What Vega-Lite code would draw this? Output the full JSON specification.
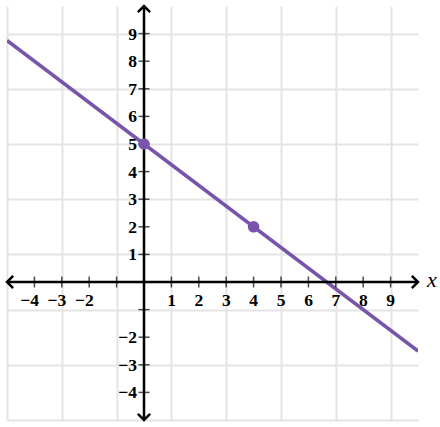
{
  "$schema": "https://vega.github.io/schema/vega-lite/v6.json",
  "description": "Line through (0,5) and (4,2) on a coordinate grid.",
  "width": 411,
  "height": 414,
  "autosize": "none",
  "padding": {"left": 7, "top": 6, "right": 22, "bottom": 7},
  "background": "white",
  "view": {"stroke": null},
  "config": {
    "text": {"font": "Liberation Serif", "fontWeight": "bold", "fontSize": 17.5, "color": "black"}
  },
  "data": {"values": [{}]},
  "datasets": {
    "line": [
      {"x": -5, "y": 8.75},
      {"x": 10, "y": -2.5}
    ],
    "points": [
      {"x": 0, "y": 5},
      {"x": 4, "y": 2}
    ],
    "ticks": [
      {"v": -4, "label": "−4"},
      {"v": -3, "label": "−3"},
      {"v": -2, "label": "−2"},
      {"v": -1, "label": ""},
      {"v": 1, "label": "1"},
      {"v": 2, "label": "2"},
      {"v": 3, "label": "3"},
      {"v": 4, "label": "4"},
      {"v": 5, "label": "5"},
      {"v": 6, "label": "6"},
      {"v": 7, "label": "7"},
      {"v": 8, "label": "8"},
      {"v": 9, "label": "9"}
    ]
  },
  "layer": [
    {
      "data": {"name": "line"},
      "mark": {"type": "line", "color": "#7854ab", "strokeWidth": 3.5, "clip": true},
      "encoding": {
        "x": {
          "field": "x", "type": "quantitative",
          "scale": {"domain": [-5, 10], "nice": false, "zero": false},
          "axis": {
            "values": [-5, -4, -3, -2, -1, 0, 1, 2, 3, 4, 5, 6, 7, 8, 9, 10],
            "grid": true, "gridColor": "#e4e4e4", "gridWidth": 2,
            "labels": false, "ticks": false, "domain": false, "title": null
          }
        },
        "y": {
          "field": "y", "type": "quantitative",
          "scale": {"domain": [-5, 10], "nice": false, "zero": false},
          "axis": {
            "values": [-5, -4, -3, -2, -1, 0, 1, 2, 3, 4, 5, 6, 7, 8, 9, 10],
            "grid": true, "gridColor": "#e4e4e4", "gridWidth": 2,
            "labels": false, "ticks": false, "domain": false, "title": null
          }
        }
      }
    },
    {
      "mark": {"type": "rule", "color": "black", "strokeWidth": 2.5},
      "encoding": {"y": {"datum": 0}}
    },
    {
      "mark": {"type": "rule", "color": "black", "strokeWidth": 2.5},
      "encoding": {"x": {"datum": 0}}
    },
    {
      "data": {"name": "ticks"},
      "mark": {"type": "tick", "orient": "vertical", "color": "black", "size": 11, "thickness": 1.5},
      "encoding": {"x": {"field": "v", "type": "quantitative"}, "y": {"datum": 0}}
    },
    {
      "data": {"name": "ticks"},
      "mark": {"type": "tick", "orient": "horizontal", "color": "black", "size": 11, "thickness": 1.5},
      "encoding": {"y": {"field": "v", "type": "quantitative"}, "x": {"datum": 0}}
    },
    {
      "data": {"name": "ticks"},
      "mark": {"type": "text", "align": "right", "baseline": "middle", "dx": 4.5, "dy": 18.5},
      "encoding": {
        "x": {"field": "v", "type": "quantitative"},
        "y": {"datum": 0},
        "text": {"field": "label"}
      }
    },
    {
      "data": {"name": "ticks"},
      "mark": {"type": "text", "align": "right", "baseline": "middle", "dx": -7, "dy": 1},
      "encoding": {
        "y": {"field": "v", "type": "quantitative"},
        "x": {"datum": 0},
        "text": {"field": "label"}
      }
    },
    {
      "mark": {"type": "point", "shape": "M -1 -1 L 0 0 L -1 1", "filled": false, "stroke": "black", "strokeWidth": 2.5, "size": 150, "opacity": 1, "angle": 0},
      "encoding": {"x": {"datum": 10}, "y": {"datum": 0}}
    },
    {
      "mark": {"type": "point", "shape": "M -1 -1 L 0 0 L -1 1", "filled": false, "stroke": "black", "strokeWidth": 2.5, "size": 150, "opacity": 1, "angle": 180},
      "encoding": {"x": {"datum": -5}, "y": {"datum": 0}}
    },
    {
      "mark": {"type": "point", "shape": "M -1 -1 L 0 0 L -1 1", "filled": false, "stroke": "black", "strokeWidth": 2.5, "size": 150, "opacity": 1, "angle": 270},
      "encoding": {"x": {"datum": 0}, "y": {"datum": 10}}
    },
    {
      "mark": {"type": "point", "shape": "M -1 -1 L 0 0 L -1 1", "filled": false, "stroke": "black", "strokeWidth": 2.5, "size": 150, "opacity": 1, "angle": 90},
      "encoding": {"x": {"datum": 0}, "y": {"datum": -5}}
    },
    {
      "mark": {"type": "text", "text": "x", "fontStyle": "italic", "fontWeight": "normal", "fontSize": 22, "align": "left", "baseline": "middle", "dx": 9, "dy": -2},
      "encoding": {"x": {"datum": 10}, "y": {"datum": 0}}
    },
    {
      "data": {"name": "points"},
      "mark": {"type": "circle", "color": "#7854ab", "size": 135, "opacity": 1},
      "encoding": {
        "x": {"field": "x", "type": "quantitative"},
        "y": {"field": "y", "type": "quantitative"}
      }
    }
  ]
}
